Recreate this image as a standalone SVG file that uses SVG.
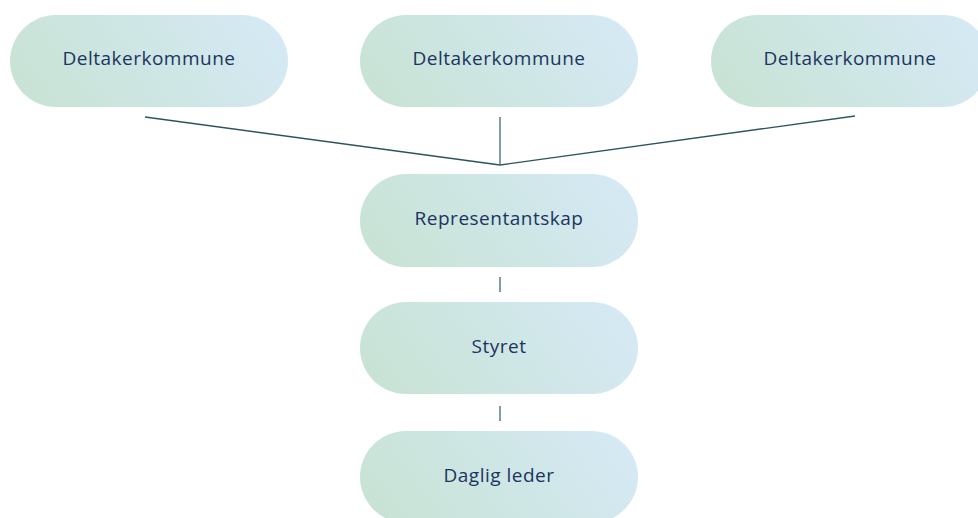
<svg xmlns="http://www.w3.org/2000/svg" width="978" height="518" viewBox="0 0 978 518">
  <defs>
    <linearGradient id="g" x1="0" y1="0.62" x2="1" y2="0.38">
      <stop offset="0" stop-color="#c8e3d5"/>
      <stop offset="1" stop-color="#d5e9f4"/>
    </linearGradient>
    <style>
      .n rect { fill: url(#g); }
      .n text { font-family: "Open Sans", "Liberation Sans", sans-serif; font-size: 19px; letter-spacing: 0.5px; fill: #1b3560; text-anchor: middle; }
      .c line { stroke: #2b5558; stroke-width: 1.4; fill: none; }
      .c line.s { stroke: #4e7478; }
    </style>
  </defs>
  <rect width="978" height="518" fill="#ffffff"/>
  <g id="connectors" class="c">
    <line x1="145" y1="117" x2="500" y2="165"/>
    <line x1="855" y1="116" x2="500" y2="165"/>
    <line class="s" x1="500" y1="117" x2="500" y2="165"/>
    <line class="s" x1="500" y1="277" x2="500" y2="292"/>
    <line class="s" x1="500" y1="406" x2="500" y2="421"/>
  </g>
  <g id="deltaker1" class="n">
    <rect x="10" y="15" width="278" height="92" rx="46"/>
    <text x="149" y="65">Deltakerkommune</text>
  </g>
  <g id="deltaker2" class="n">
    <rect x="360" y="15" width="278" height="92" rx="46"/>
    <text x="499" y="65">Deltakerkommune</text>
  </g>
  <g id="deltaker3" class="n">
    <rect x="711" y="15" width="278" height="92" rx="46"/>
    <text x="850" y="65">Deltakerkommune</text>
  </g>
  <g id="representantskap" class="n">
    <rect x="360" y="174" width="278" height="93" rx="46"/>
    <text x="499" y="225">Representantskap</text>
  </g>
  <g id="styret" class="n">
    <rect x="360" y="302" width="278" height="92" rx="46"/>
    <text x="499" y="353">Styret</text>
  </g>
  <g id="dagliglader" class="n">
    <rect x="360" y="431" width="278" height="92" rx="46"/>
    <text x="499" y="482">Daglig leder</text>
  </g>
</svg>
